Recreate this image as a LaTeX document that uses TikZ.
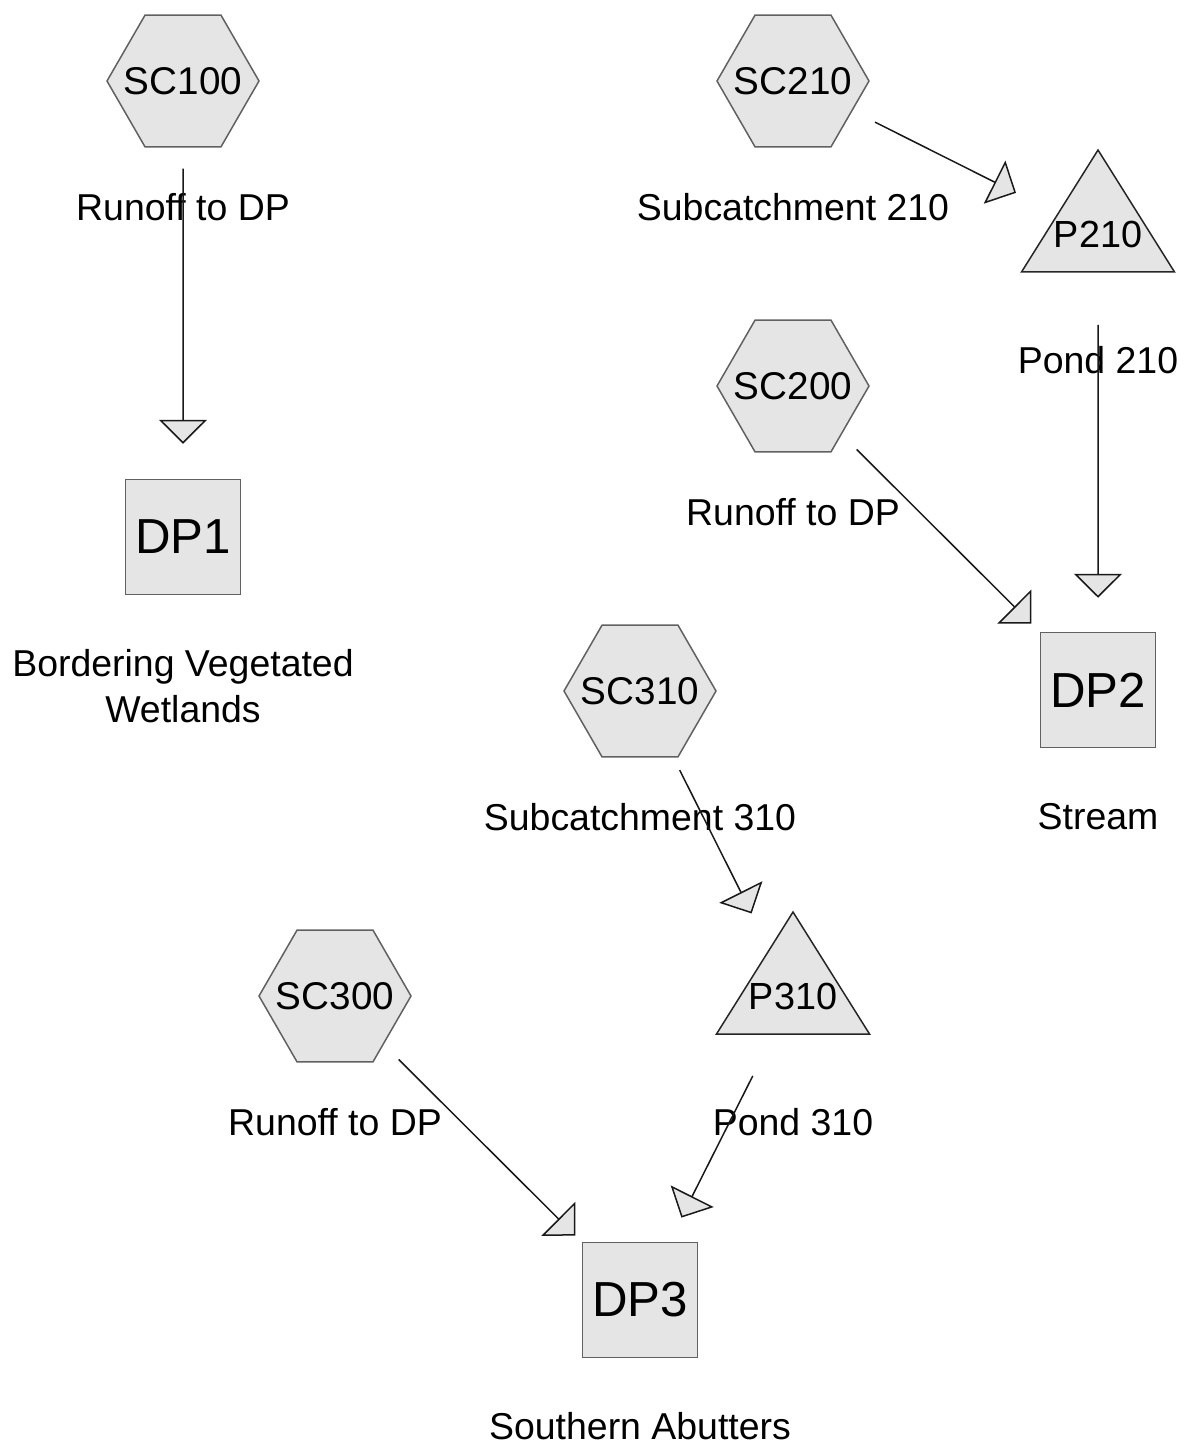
\documentclass[tikz,border=0pt]{standalone}
\usepackage{fontspec}
\setmainfont{Liberation Sans}
\usepackage{tikz}
\usetikzlibrary{shapes.geometric}
\usetikzlibrary{arrows.meta}
\usetikzlibrary{positioning}

\definecolor{hcfill}{gray}{0.9}
\definecolor{hcedge}{gray}{0.38}

\begin{document}
\begin{tikzpicture}[subcat/.style={regular polygon,regular polygon sides=6,minimum size=3.04cm,inner sep=-0.5cm,draw=hcedge,fill=hcfill,line width=0.03cm,font=\fontsize{22}{24}\selectfont},
  pond/.style={isosceles triangle,isosceles triangle stretches,shape border rotate=90,minimum width=3.06cm,minimum height=2.44cm,inner xsep=-0.6cm,inner ysep=-0.04cm,draw=black!85,fill=hcfill,line width=0.03cm,font=\fontsize{21.5}{24}\selectfont},
  reach/.style={rectangle,minimum size=2.3cm,draw=hcedge,fill=hcfill,line width=0.03cm,font=\fontsize{28}{30}\selectfont},
  lbl/.style={anchor=base,yshift=-2.78cm,font=\fontsize{21.3}{26}\selectfont,align=center},
  flow/.style={draw=black!90,line width=0.03cm,-{Triangle[length=0.48cm,width=0.96cm,fill=hcfill]}}]
  \useasboundingbox (0,0) rectangle (23.76,-29.04);
  %left column
  \node[subcat] (sc100) at (3.66,-1.62) {SC100};
  \node[lbl,at=(sc100)] (sc100-lbl) {Runoff to DP};
  \node[reach] (dp1) at (3.66,-10.74) {DP1};
  \node[lbl,at=(dp1),yshift=-0.93cm] (dp1-lbl) {Bordering Vegetated\\Wetlands};
  %upper right
  \node[subcat] (sc210) at (15.86,-1.62) {SC210};
  \node[lbl,at=(sc210)] (sc210-lbl) {Subcatchment 210};
  \node[pond] (p210) at (21.96,-4.68) {P210};
  \node[lbl,at=(p210)] (p210-lbl) {Pond 210};
  \node[subcat] (sc200) at (15.86,-7.72) {SC200};
  \node[lbl,at=(sc200)] (sc200-lbl) {Runoff to DP};
  \node[reach] (dp2) at (21.96,-13.80) {DP2};
  \node[lbl,at=(dp2)] (dp2-lbl) {Stream};
  %lower middle
  \node[subcat] (sc310) at (12.80,-13.82) {SC310};
  \node[lbl,at=(sc310)] (sc310-lbl) {Subcatchment 310};
  \node[pond] (p310) at (15.86,-19.92) {P310};
  \node[lbl,at=(p310)] (p310-lbl) {Pond 310};
  \node[subcat] (sc300) at (6.70,-19.92) {SC300};
  \node[lbl,at=(sc300)] (sc300-lbl) {Runoff to DP};
  \node[reach] (dp3) at (12.80,-26.00) {DP3};
  \node[lbl,at=(dp3)] (dp3-lbl) {Southern Abutters};
  %routing
  \draw[flow,shorten <=0.42cm,shorten >=0.70cm] (sc100) -- (dp1);
  \draw[flow,shorten <=0.50cm,shorten >=0.92cm] (sc210) -- (p210);
  \draw[flow,shorten <=1.04cm,shorten >=0.68cm] (p210) -- (dp2);
  \draw[flow,shorten <=0.42cm,shorten >=0.24cm] (sc200) -- (dp2);
  \draw[flow,shorten <=0.28cm,shorten >=0.78cm] (sc310) -- (p310);
  \draw[flow,shorten <=0.92cm,shorten >=0.54cm] (p310) -- (dp3);
  \draw[flow,shorten <=0.42cm,shorten >=0.18cm] (sc300) -- (dp3);
\end{tikzpicture}
\end{document}
